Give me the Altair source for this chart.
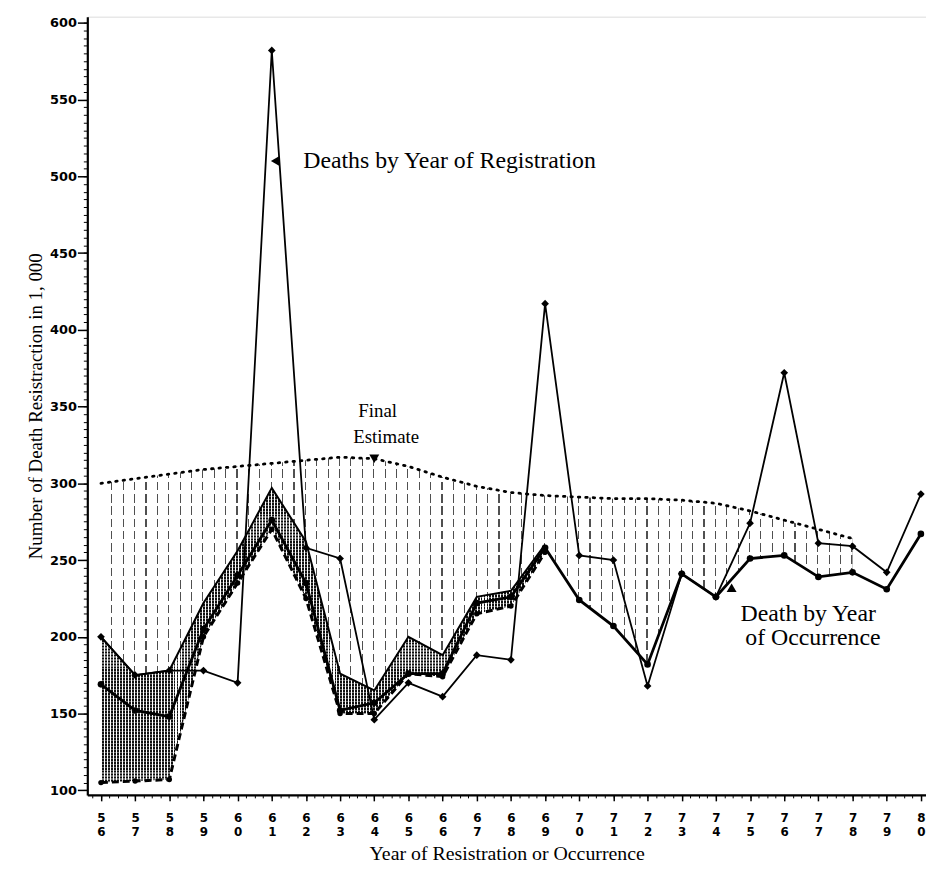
import altair as alt
import pandas as pd

# ---------------- data (in thousands) ----------------
years = list(range(1956, 1981))
registration = [200, 175, 178, 178, 170, 582, 258, 251, 146, 170, 161, 188, 185,
                417, 253, 250, 168, 241, 226, 274, 372, 261, 259, 242, 293]
occurrence = [169, 152, 148, 205, 240, 276, 235, 152, 157, 176, 176, 222, 226,
              258, 224, 207, 182, 241, 226, 251, 253, 239, 242, 231, 267]
band_years = list(range(1956, 1970))
band_upper = [200, 175, 178, 222, 256, 297, 262, 176, 165, 200, 188, 226, 230, 260]
band_lower = [105, 106, 107, 200, 235, 270, 225, 150, 150, 176, 174, 215, 220, 255]
final_years = list(range(1956, 1979))
final_estimate = [300, 303, 306, 309, 311, 313, 315, 317, 316, 311, 304, 298, 294,
                  292, 291, 290, 290, 289, 287, 282, 276, 270, 264]
y_ticks = list(range(100, 601, 50))

ann_text = ["Deaths by Year  of Registration", "Final", "Estimate",
            "Death by Year", "of Occurrence"]
ann_year = [1961.92, 1964.1, 1964.35, 1974.72, 1974.86]
ann_value = [510, 347, 330, 215, 199]
ann_size = [24, 19, 19, 24, 24]
ann_align = ["left", "center", "center", "left", "left"]
arrow_year = [1961.1, 1964.0, 1974.46]
arrow_value = [510, 316, 232]
arrow_shape = ["triangle-left", "triangle-down", "triangle-up"]

# ---------------- tables ----------------
df_main = pd.DataFrame({"year": years, "reg": registration, "occ": occurrence})
df_band = pd.DataFrame({"year": band_years, "upper": band_upper, "lower": band_lower})
hatch_bottom = [band_upper[band_years.index(y)] if y in band_years
                else occurrence[years.index(y)] for y in final_years]
df_final = pd.DataFrame({"year": final_years, "final": final_estimate, "bottom": hatch_bottom})
df_ann = pd.DataFrame({"year": ann_year, "value": ann_value, "text": ann_text,
                       "size": ann_size, "align": ann_align})
df_arrow = pd.DataFrame({"year": arrow_year, "value": arrow_value, "shape": arrow_shape})

# ---------------- styling helpers ----------------
W, H = 846, 785
xs = alt.Scale(domain=[1955.6, 1980.15], nice=False, zero=False)
ys = alt.Scale(domain=[97, 604], nice=False, zero=False)


def stripes(n, duty, color, back, vertical=True):
    stops = []
    for k in range(n):
        a = k / n
        g = (k + (1 - duty)) / n
        b = min((k + 1) / n, 1.0)
        stops += [alt.GradientStop(offset=a, color=back),
                  alt.GradientStop(offset=g, color=back),
                  alt.GradientStop(offset=g, color=color),
                  alt.GradientStop(offset=b, color=color)]
    if vertical:
        return alt.Gradient(gradient="linear", stops=stops, x1=0, x2=1, y1=0, y2=0)
    return alt.Gradient(gradient="linear", stops=stops, x1=0, x2=0, y1=0, y2=1)


x_major = alt.Axis(values=years, orient="bottom",
                   labelExpr="[substring(toString(datum.value),2,3), substring(toString(datum.value),3,4)]",
                   labelFont="DejaVu Sans", labelFontWeight="bold", labelFontSize=12,
                   labelLineHeight=14, labelPadding=12, labelColor="black",
                   tickSize=6, tickWidth=1.5, tickColor="black",
                   domainWidth=2.2, domainColor="black", grid=False,
                   title="Year of Resistration or Occurrence", titleFont="Liberation Serif",
                   titleFontSize=20, titleFontWeight="normal", titleColor="black",
                   titlePadding=6)
x_minor = alt.Axis(values=[1955.75 + 0.25 * k for k in range(98)], orient="bottom",
                   labels=False, domain=False, tickSize=3, tickWidth=1, tickColor="black",
                   grid=False, title=None)
y_major = alt.Axis(values=y_ticks, orient="left",
                   labelFont="DejaVu Sans", labelFontWeight="bold", labelFontSize=13,
                   labelPadding=1, labelColor="black",
                   tickSize=10, tickWidth=1.5, tickColor="black",
                   domainWidth=2.2, domainColor="black", grid=False,
                   title="Number of Death Resistraction in 1, 000", titleFont="Liberation Serif",
                   titleFontSize=19, titleFontWeight="normal", titleColor="black",
                   titlePadding=4)
y_minor = alt.Axis(values=list(range(100, 605, 5)), orient="left",
                   labels=False, domain=False, tickSize=4, tickWidth=1, tickColor="black",
                   grid=False, title=None)


def X(axis=None):
    return alt.X("year:Q", scale=xs, axis=axis)


# hatched area between the final estimate and the occurrence curves
hatch = alt.Chart(df_final).mark_area(
    color=stripes(66, 0.1, "#505050", "white")).encode(
    x=X(), y=alt.Y("final:Q", scale=ys, axis=None), y2="bottom:Q")
hatch_break = alt.Chart(df_final).mark_area(
    color=stripes(19, 0.3, "rgba(255,255,255,1)", "rgba(255,255,255,0)", vertical=False)).encode(
    x=X(), y=alt.Y("final:Q", scale=ys, axis=None), y2="bottom:Q")

# cross-hatched band between the two occurrence tallies
band = alt.Chart(df_band).mark_area(
    color=stripes(149, 0.65, "#111111", "white")).encode(
    x=X(), y=alt.Y("upper:Q", scale=ys, axis=None), y2="lower:Q")
band_break = alt.Chart(df_band).mark_area(
    color=stripes(99, 0.4, "rgba(255,255,255,0.4)", "rgba(255,255,255,0)", vertical=False)).encode(
    x=X(), y=alt.Y("upper:Q", scale=ys, axis=None), y2="lower:Q")

final_line = alt.Chart(df_final).mark_line(
    color="black", strokeWidth=2.8, strokeDash=[1.5, 6], strokeCap="round").encode(
    x=X(), y=alt.Y("final:Q", scale=ys, axis=None))

lower_line = alt.Chart(df_band).mark_line(
    color="black", strokeWidth=3, strokeDash=[7, 4]).encode(
    x=X(), y=alt.Y("lower:Q", scale=ys, axis=None))
lower_pts = alt.Chart(df_band).mark_point(
    shape="circle", filled=True, color="black", size=30, opacity=1).encode(
    x=X(), y=alt.Y("lower:Q", scale=ys, axis=None))

upper_line = alt.Chart(df_band).mark_line(color="black", strokeWidth=2).encode(
    x=X(), y=alt.Y("upper:Q", scale=ys, axis=None))

occ_line = alt.Chart(df_main).mark_line(color="black", strokeWidth=2.8).encode(
    x=X(), y=alt.Y("occ:Q", scale=ys, axis=None))
occ_pts = alt.Chart(df_main).mark_point(
    shape="circle", filled=True, color="black", size=45, opacity=1).encode(
    x=X(), y=alt.Y("occ:Q", scale=ys, axis=None))

reg_line = alt.Chart(df_main).mark_line(color="black", strokeWidth=1.8).encode(
    x=X(x_major), y=alt.Y("reg:Q", scale=ys, axis=y_major))
reg_pts = alt.Chart(df_main).mark_point(
    shape="diamond", filled=True, color="black", size=60, opacity=1).encode(
    x=X(), y=alt.Y("reg:Q", scale=ys, axis=None))

minor = alt.Chart(df_main).mark_point(opacity=0).encode(
    x=X(x_minor), y=alt.Y("reg:Q", scale=ys, axis=y_minor))

ann_left = alt.Chart(df_ann).transform_filter("datum.align == 'left'").mark_text(
    align="left", baseline="middle", font="Liberation Serif", color="black").encode(
    x=X(), y=alt.Y("value:Q", scale=ys, axis=None), text="text:N",
    size=alt.Size("size:Q", scale=None, legend=None))
ann_center = alt.Chart(df_ann).transform_filter("datum.align == 'center'").mark_text(
    align="center", baseline="middle", font="Liberation Serif", color="black").encode(
    x=X(), y=alt.Y("value:Q", scale=ys, axis=None), text="text:N",
    size=alt.Size("size:Q", scale=None, legend=None))
arrows = alt.Chart(df_arrow).mark_point(filled=True, color="black", size=100, opacity=1).encode(
    x=X(), y=alt.Y("value:Q", scale=ys, axis=None),
    shape=alt.Shape("shape:N", scale=None))

chart = alt.layer(
    hatch, hatch_break, band, band_break, final_line, lower_line, lower_pts,
    upper_line, occ_line, occ_pts, reg_line, reg_pts, minor,
    ann_left, ann_center, arrows
).resolve_axis(x="independent", y="independent").properties(
    width=W, height=H,
    autosize=alt.AutoSizeParams(type="none"),
    padding={"left": 80, "top": 5, "right": 0, "bottom": 70},
).configure_view(stroke=None).configure(background="white")

chart.save("out.html", embed_options={"renderer": "svg", "actions": False})
